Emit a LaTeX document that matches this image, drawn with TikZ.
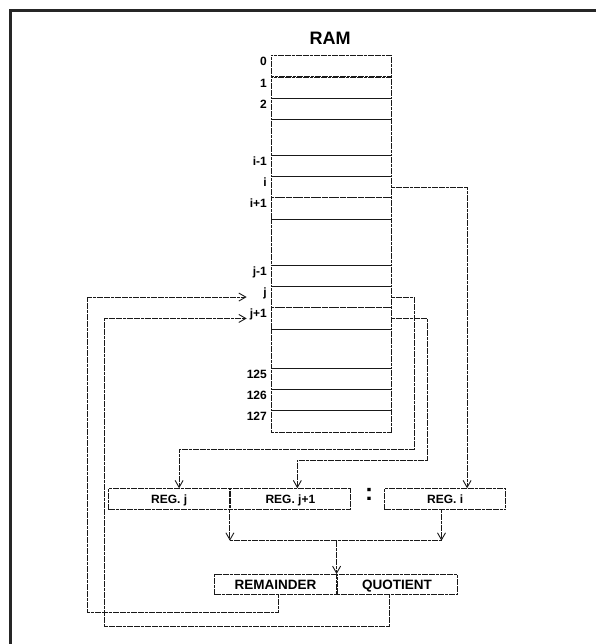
\documentclass[tikz,border=0pt]{standalone}
\usepackage{fontspec}
\setmainfont{Liberation Sans}
\usepackage{tikz}
\usetikzlibrary{positioning, arrows.meta, calc}

\begin{document}
\begin{tikzpicture}[
    x=1pt, y=-1pt,
    cell/.style={draw=black!90, line width=0.9pt, dash pattern=on 3pt off 0.6pt,
        minimum width=120pt, minimum height=21.2pt, inner sep=0, anchor=north west},
    addr/.style={anchor=base east, inner sep=0, font=\fontsize{12}{14}\selectfont\bfseries},
    reg/.style={draw=black!90, line width=0.9pt, dash pattern=on 3pt off 0.6pt,
        minimum width=120.7pt, minimum height=21pt, inner sep=0, anchor=north west,
        text height=8.6pt, text depth=0pt, font=\fontsize{12}{14}\selectfont\bfseries},
    result/.style={reg, text height=9.7pt, font=\fontsize{13.5}{15}\selectfont\bfseries},
    wire/.style={draw=black!90, line width=0.9pt, dash pattern=on 3pt off 0.6pt},
    >={Straight Barb[length=7pt,width=8pt]}
]
\useasboundingbox (0,0) rectangle (596,644);

% Frame
\draw[line width=3pt, black!85] (10.5,644) -- (10.5,10.5) -- (596,10.5);

% RAM
\node[font=\fontsize{18}{20}\selectfont\bfseries] (ram) at (330,38) {RAM};

\node[cell] (r0) at (271,55) {};
\node[cell] (r1) at (271,77) {};
\node[cell] (r2) at (271,98) {};
\node[cell, minimum height=36pt] (g1) at (271,119) {};
\node[cell] (rim) at (271,155) {};
\node[cell] (ri) at (271,176) {};
\node[cell, minimum height=22pt] (rip) at (271,197) {};
\node[cell, minimum height=46pt] (g2) at (271,219) {};
\node[cell] (rjm) at (271,265) {};
\node[cell] (rj) at (271,286) {};
\node[cell, minimum height=22pt] (rjp) at (271,307) {};
\node[cell, minimum height=39pt] (g3) at (271,329) {};
\node[cell] (r125) at (271,368) {};
\node[cell] (r126) at (271,389) {};
\node[cell, minimum height=21.5pt] (r127) at (271,410) {};

% Addresses
\node[addr] (l0) at ([xshift=-4pt,yshift=-10.5pt]r0.north west) {0};
\node[addr] (l1) at ([xshift=-4pt,yshift=-10.5pt]r1.north west) {1};
\node[addr] (l2) at ([xshift=-4pt,yshift=-10.5pt]r2.north west) {2};
\node[addr] (lim) at ([xshift=-4pt,yshift=-10.5pt]rim.north west) {i-1};
\node[addr] (li) at ([xshift=-4pt,yshift=-10.5pt]ri.north west) {i};
\node[addr] (lip) at ([xshift=-4pt,yshift=-10.5pt]rip.north west) {i+1};
\node[addr] (ljm) at ([xshift=-4pt,yshift=-10.5pt]rjm.north west) {j-1};
\node[addr] (lj) at ([xshift=-4pt,yshift=-10.5pt]rj.north west) {j};
\node[addr] (ljp) at ([xshift=-4pt,yshift=-10.5pt]rjp.north west) {j+1};
\node[addr] (l125) at ([xshift=-4pt,yshift=-10.5pt]r125.north west) {125};
\node[addr] (l126) at ([xshift=-4pt,yshift=-10.5pt]r126.north west) {126};
\node[addr] (l127) at ([xshift=-4pt,yshift=-10.5pt]r127.north west) {127};

% Registers
\node[reg] (regj) at (108.3,488.3) {REG. j};
\node[reg, minimum width=120pt] (regjp) at (regj.north east) {REG. j+1};
\node[font=\fontsize{24}{26}\selectfont\bfseries, inner sep=0, anchor=base] (dots) at (369,500) {:};
\node[reg] (regi) at (384.3,488.3) {REG. i};

% Result
\node[result, minimum width=121.4pt, minimum height=20.3pt] (rem) at (214.3,574) {REMAINDER};
\node[result, minimum width=120pt, minimum height=20.3pt] (quot) at (rem.north east) {QUOTIENT};

% RAM to registers
\draw[wire,->] (ri.east) -| ([xshift=22pt]regi.north);
\draw[wire,->] (rj.east) -| (414,449) -| ([xshift=10pt]regj.north);
\draw[wire,->] (rjp.east) -| (427.3,460) -| ([xshift=7pt]regjp.north);

% Registers to divider
\coordinate (bus) at (rem.north east |- 0,540.7);
\draw[wire,->] (regj.south east) -- (regj.south east |- bus);
\draw[wire,->] ([xshift=-3.6pt]regi.south) -- ([xshift=-3.6pt]regi.south |- bus);
\draw[wire] (regj.south east |- bus) -- ([xshift=-3.6pt]regi.south |- bus);
\draw[wire,->] (bus) -- (rem.north east);

% Results back to RAM
\draw[wire,->] ([xshift=3pt]rem.south) |- (87.3,612.3) |- ([xshift=-24.3pt]rj.west);
\draw[wire,->] ([xshift=-7.4pt]quot.south) |- (104,626.7) |- ([xshift=-24.3pt]rjp.west);

\end{tikzpicture}
\end{document}
